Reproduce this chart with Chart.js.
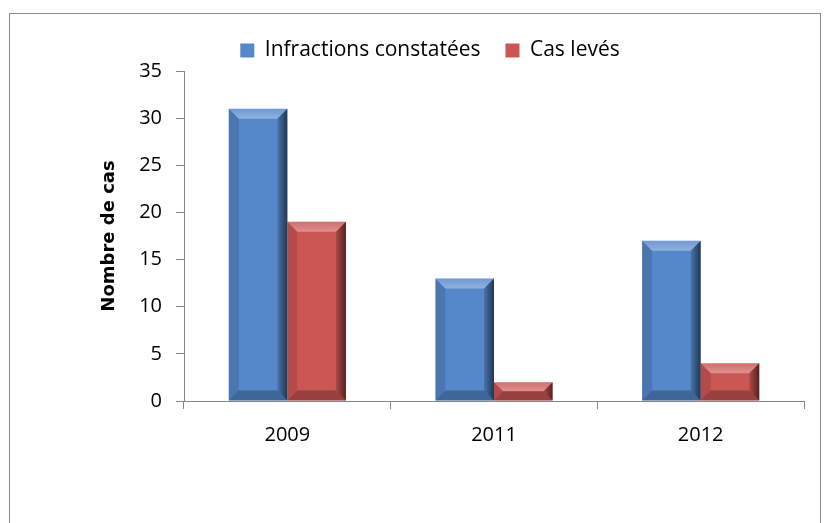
<!DOCTYPE html>
<html>
<head>
<meta charset="utf-8">
<script src="https://cdn.jsdelivr.net/npm/chart.js@4/dist/chart.umd.min.js"></script>
<style>
  html, body { margin: 0; padding: 0; background: #fff; }
  #wrap { position: relative; width: 828px; height: 523px; }
  #frame { position: absolute; left: 9px; top: 13px; width: 812px; height: 520px; border: 1px solid #8c8c8c; box-sizing: border-box; }
  canvas { position: absolute; left: 0; top: 0; }
</style>
</head>
<body>
<div id="wrap">
  <div id="frame"></div>
  <canvas id="chart" width="828" height="523"></canvas>
</div>
<script>
const years = ['2009', '2011', '2012'];
const infractions = [31, 13, 17];
const casLeves = [19, 2, 4];
const yTicks = [0, 5, 10, 15, 20, 25, 30, 35];

const blue = '#5588cb';
const red = '#cb5654';

// bevel effect like the office 3d bars
const bevelPlugin = {
  id: 'bevel',
  afterDatasetsDraw(chart) {
    const ctx = chart.ctx;
    chart.data.datasets.forEach((ds, i) => {
      const meta = chart.getDatasetMeta(i);
      meta.data.forEach(bar => {
        const p = bar.getProps(['x', 'y', 'base', 'width'], true);
        const x0 = p.x - p.width / 2, x1 = p.x + p.width / 2;
        const top = p.y, bot = p.base;
        const b = Math.min(10, (bot - top) / 2);
        ctx.save();
        // top face
        let g = ctx.createLinearGradient(0, top, 0, top + b);
        g.addColorStop(0, 'rgba(255,255,255,0.15)');
        g.addColorStop(1, 'rgba(255,255,255,0.35)');
        ctx.fillStyle = g;
        ctx.beginPath();
        ctx.moveTo(x0, top); ctx.lineTo(x1, top); ctx.lineTo(x1 - b, top + b); ctx.lineTo(x0 + b, top + b);
        ctx.closePath(); ctx.fill();
        // right face
        g = ctx.createLinearGradient(x1 - b, 0, x1, 0);
        g.addColorStop(0, 'rgba(0,0,0,0.15)');
        g.addColorStop(1, 'rgba(0,0,0,0.6)');
        ctx.fillStyle = g;
        ctx.beginPath();
        ctx.moveTo(x1, top); ctx.lineTo(x1, bot); ctx.lineTo(x1 - b, bot - b); ctx.lineTo(x1 - b, top + b);
        ctx.closePath(); ctx.fill();
        // left face
        ctx.fillStyle = 'rgba(0,0,0,0.12)';
        ctx.beginPath();
        ctx.moveTo(x0, top); ctx.lineTo(x0 + b, top + b); ctx.lineTo(x0 + b, bot - b); ctx.lineTo(x0, bot);
        ctx.closePath(); ctx.fill();
        // bottom face
        ctx.fillStyle = 'rgba(0,0,0,0.25)';
        ctx.beginPath();
        ctx.moveTo(x0, bot); ctx.lineTo(x0 + b, bot - b); ctx.lineTo(x1 - b, bot - b); ctx.lineTo(x1, bot);
        ctx.closePath(); ctx.fill();
        ctx.restore();
      });
    });
  }
};

const ctx = document.getElementById('chart').getContext('2d');
new Chart(ctx, {
  type: 'bar',
  data: {
    labels: years,
    datasets: [
      { label: 'Infractions constatées', data: infractions, backgroundColor: blue, borderWidth: 0 },
      { label: 'Cas levés', data: casLeves, backgroundColor: red, borderWidth: 0 }
    ]
  },
  options: {
    responsive: false,
    animation: false,
    layout: { padding: { left: 56, right: 24, top: 15, bottom: 62 } },
    datasets: { bar: { barPercentage: 1, categoryPercentage: 0.567 } },
    plugins: {
      legend: {
        position: 'top',
        labels: {
          font: { family: 'Open Sans', size: 21 },
          color: '#000',
          boxWidth: 14, boxHeight: 14,
          padding: 25
        }
      },
      tooltip: { enabled: false }
    },
    scales: {
      x: {
        grid: { display: true, drawOnChartArea: false, offset: true, color: '#868686', tickLength: 8 },
        border: { color: '#868686' },
        ticks: { font: { family: 'Open Sans', size: 20 }, color: '#000', padding: 14 }
      },
      y: {
        min: 0, max: 35,
        afterBuildTicks(scale) { scale.ticks = yTicks.map(v => ({ value: v })); },
        afterFit(scale) { scale.width = 128; },
        grid: { display: true, drawOnChartArea: false, color: '#868686', tickLength: 8 },
        border: { color: '#868686' },
        ticks: { font: { family: 'Open Sans', size: 20 }, color: '#000', padding: 14 },
        title: {
          display: true, text: 'Nombre de cas', color: '#000',
          font: { family: 'DejaVu Sans', size: 18, weight: 'bold' },
          padding: { top: 43, bottom: 0 }
        }
      }
    }
  },
  plugins: [bevelPlugin]
});
</script>
</body>
</html>
